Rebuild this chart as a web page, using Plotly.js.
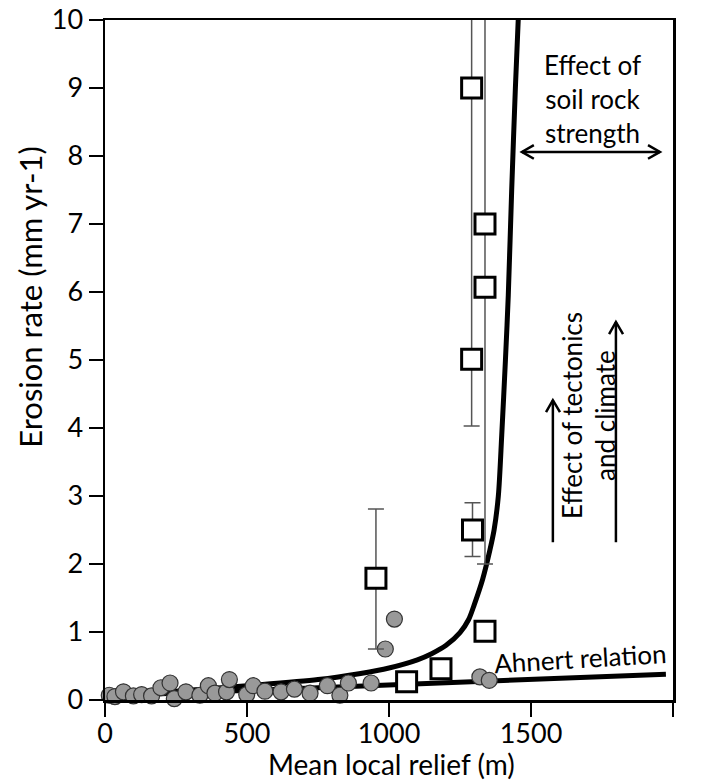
<!DOCTYPE html>
<html><head><meta charset="utf-8">
<script src="https://cdn.plot.ly/plotly-3.0.1.min.js"></script>
<style>html,body{margin:0;padding:0;background:#fff}</style>
</head><body><div id="chart" style="width:702px;height:780px"></div>
<script>
// Grey circles (data points)
const circleX = [15,35,65,100,129,164,197,229,244,285,334,364,387,428,438,499,522,563,620,667,722,783,827,857,937,987,1019,1320,1353];
const circleY = [0.07,0.05,0.12,0.06,0.08,0.06,0.18,0.25,0.02,0.12,0.07,0.21,0.10,0.12,0.30,0.08,0.21,0.13,0.12,0.16,0.10,0.21,0.07,0.25,0.25,0.75,1.19,0.34,0.29];
// Open squares with vertical error bars
const squareX = [954,1062,1183,1294,1291,1291,1338,1338,1338];
const squareY = [1.79,0.27,0.46,2.50,5.01,9.00,6.07,7.00,1.01];
const errPlus = [1.02,0,0,0.40,5.5,0,4.5,0,0];
const errMinus = [1.04,0,0,0.39,0.98,0,4.07,0,0];
// Threshold curve
const threshX = [0,250,500,750,900,1000,1100,1150,1200,1250,1280,1300,1330,1355,1370,1385,1397,1410,1420,1432,1445,1458];
const threshY = [0.07,0.13,0.21,0.30,0.39,0.47,0.59,0.68,0.80,0.99,1.18,1.40,1.78,2.20,2.50,3.00,3.90,5.00,5.95,7.50,9.00,10.3];
// Ahnert relation line
const ahnertX = [0,1975];
const ahnertY = [0.06,0.38];
// Axis ticks
const xTicks = [0,500,1000,1500,2000];
const yTicks = [0,1,2,3,4,5,6,7,8,9,10];

const FONT = 'Lato, "Open Sans", sans-serif';

const traces = [
  {x: ahnertX, y: ahnertY, mode: 'lines', line: {color: '#000', width: 5}, hoverinfo: 'skip'},
  {x: threshX, y: threshY, mode: 'lines', line: {color: '#000', width: 5, shape: 'spline', smoothing: 0.8}, hoverinfo: 'skip'},
  {x: circleX, y: circleY, mode: 'markers', cliponaxis: false,
   marker: {symbol: 'circle', size: 16, color: '#999999', line: {color: '#333', width: 1.2}}},
  {x: squareX, y: squareY, mode: 'markers',
   error_y: {type: 'data', symmetric: false, array: errPlus, arrayminus: errMinus, color: '#555', thickness: 1.5, width: 8},
   marker: {symbol: 'square', size: 20, color: '#fff', line: {color: '#000', width: 3}}}
];

const arrowLine = {color: '#000', width: 2.5};
const shapes = [
  {type: 'line', xref: 'x', yref: 'y', x0: 1468, y0: 8.06, x1: 1954, y1: 8.06, line: arrowLine},
  {type: 'path', xref: 'x', yref: 'y', path: 'M 1510,8.16 L 1468,8.06 L 1510,7.96', line: arrowLine},
  {type: 'path', xref: 'x', yref: 'y', path: 'M 1912,8.16 L 1954,8.06 L 1912,7.96', line: arrowLine},
  {type: 'line', xref: 'x', yref: 'y', x0: 1577, y0: 2.32, x1: 1577, y1: 4.41, line: arrowLine},
  {type: 'path', xref: 'x', yref: 'y', path: 'M 1553,4.235 L 1577,4.41 L 1602,4.235', line: arrowLine},
  {type: 'line', xref: 'x', yref: 'y', x0: 1799, y0: 2.32, x1: 1799, y1: 5.56, line: arrowLine},
  {type: 'path', xref: 'x', yref: 'y', path: 'M 1775,5.38 L 1799,5.56 L 1824,5.38', line: arrowLine}
];

const annotations = [
  {x: 1718, y: 8.84, xref: 'x', yref: 'y', text: 'Effect of<br>soil rock<br>strength', showarrow: false,
   font: {size: 26, family: FONT, color: '#000'}, align: 'center'},
  {x: 1644, y: 4.19, xref: 'x', yref: 'y', text: 'Effect of tectonics', textangle: -90, showarrow: false,
   font: {size: 26, family: FONT, color: '#000'}},
  {x: 1761, y: 4.18, xref: 'x', yref: 'y', text: 'and climate', textangle: -90, showarrow: false,
   font: {size: 26, family: FONT, color: '#000'}},
  {x: 1676, y: 0.62, xref: 'x', yref: 'y', text: 'Ahnert relation', textangle: -3.4, showarrow: false,
   font: {size: 26, family: FONT, color: '#000'}},
  // axis titles
  {xref: 'paper', yref: 'paper', x: 0.505, y: -0.094, yanchor: 'middle', xanchor: 'center',
   text: 'Mean local relief (m)', showarrow: false, font: {size: 28, family: FONT, color: '#000'}},
  {xref: 'paper', yref: 'paper', x: -0.132, y: 0.593, yanchor: 'middle', xanchor: 'center', textangle: -90,
   text: 'Erosion rate (mm yr-1)', showarrow: false, font: {size: 31, family: FONT, color: '#000'}}
];

const layout = {
  width: 702, height: 780,
  margin: {l: 105, r: 29, t: 20, b: 80},
  paper_bgcolor: '#fff', plot_bgcolor: '#fff',
  showlegend: false,
  font: {family: FONT, color: '#000', size: 26},
  xaxis: {range: [0, 2000], tickvals: xTicks, ticktext: xTicks.map(String),
    ticks: 'outside', ticklen: 14, tickwidth: 2, tickcolor: '#000', ticklabelstandoff: -6,
    showline: true, linewidth: 2.5, linecolor: '#000', mirror: true,
    showgrid: false, zeroline: false, tickfont: {size: 27, family: FONT}},
  yaxis: {range: [0, 10], tickvals: yTicks, ticktext: yTicks.map(String),
    ticks: 'outside', ticklen: 14, tickwidth: 2, tickcolor: '#000',
    showline: true, linewidth: 2.5, linecolor: '#000', mirror: true,
    showgrid: false, zeroline: false, tickfont: {size: 27, family: FONT}},
  shapes: shapes,
  annotations: annotations
};

Plotly.newPlot('chart', traces, layout, {displayModeBar: false, staticPlot: true});
</script>
</body></html>
